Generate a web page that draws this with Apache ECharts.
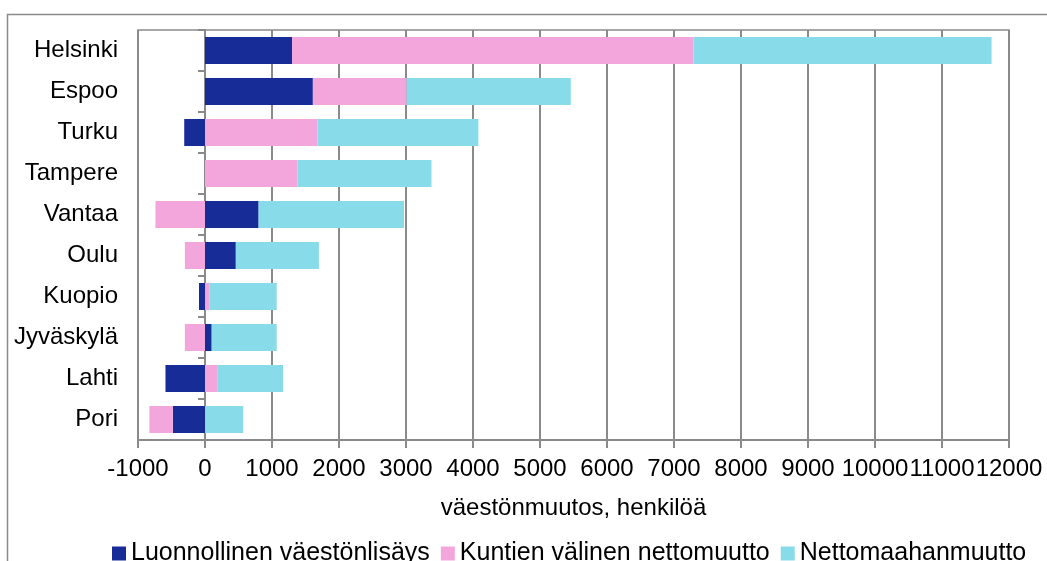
<!DOCTYPE html>
<html>
<head>
<meta charset="utf-8">
<script src="https://cdn.jsdelivr.net/npm/echarts@6/dist/echarts.min.js"></script>
<style>
  html, body { margin: 0; padding: 0; background: #fff; }
  #main { width: 1047px; height: 561px; }
</style>
</head>
<body>
<div id="main"></div>
<script>
// kaupungit ylhäältä alas
var cities = ['Helsinki', 'Espoo', 'Turku', 'Tampere', 'Vantaa', 'Oulu', 'Kuopio', 'Jyväskylä', 'Lahti', 'Pori'];
var seriesNames = ['Luonnollinen väestönlisäys', 'Kuntien välinen nettomuutto', 'Nettomaahanmuutto'];
var natural = [1300, 1610, -310, 0, 800, 460, -90, 100, -590, -480];
var internal = [5990, 1400, 1680, 1380, -740, -300, 70, -300, 190, -350];
var immigration = [4450, 2450, 2400, 2000, 2170, 1240, 1000, 970, 975, 570];
var xTicks = { min: -1000, max: 12000, step: 1000 };
var axisName = 'väestönmuutos, henkilöä';

var colors = ['#172C97', '#F2A6DC', '#88DBE8'];
var gray = '#8a8a8a';
var font = 'Liberation Sans, Arial, sans-serif';

var chart = echarts.init(document.getElementById('main'), null, { renderer: 'canvas' });

function barSeries(name, data) {
  return {
    name: name,
    type: 'bar',
    stack: 'total',
    barWidth: 27,
    data: data
  };
}

var option = {
  animation: false,
  color: colors,
  textStyle: { fontFamily: font },
  grid: {
    left: 138,
    right: 38,
    top: 30,
    bottom: 121,
    containLabel: false,
    outerBoundsMode: 'none',
    show: true,
    borderColor: gray,
    borderWidth: 1.5
  },
  graphic: [{
    type: 'rect',
    shape: { x: 7.5, y: 14.5, width: 1100, height: 600 },
    style: { fill: 'none', stroke: gray, lineWidth: 1.5 },
    silent: true
  }],
  legend: {
    data: seriesNames,
    left: 112,
    top: 541,
    padding: 0,
    itemWidth: 14,
    itemHeight: 14,
    itemGap: 11,
    icon: 'rect',
    textStyle: { fontSize: 25, color: '#000', fontFamily: font }
  },
  xAxis: {
    type: 'value',
    min: xTicks.min,
    max: xTicks.max,
    interval: xTicks.step,
    name: axisName,
    nameLocation: 'middle',
    nameGap: 56,
    nameTextStyle: { fontSize: 24, color: '#000', fontFamily: font },
    axisLine: { show: true, onZero: false, lineStyle: { color: gray, width: 2 } },
    axisTick: { show: true, length: 8, lineStyle: { color: gray, width: 2 } },
    axisLabel: {
      fontSize: 24,
      color: '#000',
      margin: 17,
      hideOverlap: false,
      showMinLabel: true,
      showMaxLabel: true,
      fontFamily: font,
      formatter: function (v) { return String(v); }
    },
    splitLine: { show: true, lineStyle: { color: gray, width: 2 } }
  },
  yAxis: [{
    type: 'category',
    data: cities,
    inverse: true,
    axisLine: { show: false, onZero: false },
    axisTick: { show: false },
    axisLabel: { fontSize: 24, color: '#000', margin: 20, fontFamily: font }
  }, {
    // akseliviiva nollakohdassa
    type: 'category',
    data: cities,
    inverse: true,
    position: 'left',
    axisLine: { show: true, onZero: true, lineStyle: { color: gray, width: 2 } },
    axisTick: { show: true, length: 7, lineStyle: { color: gray, width: 2 } },
    axisLabel: { show: false },
    splitLine: { show: false }
  }],
  series: [
    barSeries(seriesNames[0], natural),
    barSeries(seriesNames[1], internal),
    barSeries(seriesNames[2], immigration)
  ]
};

chart.setOption(option);
</script>
</body>
</html>
